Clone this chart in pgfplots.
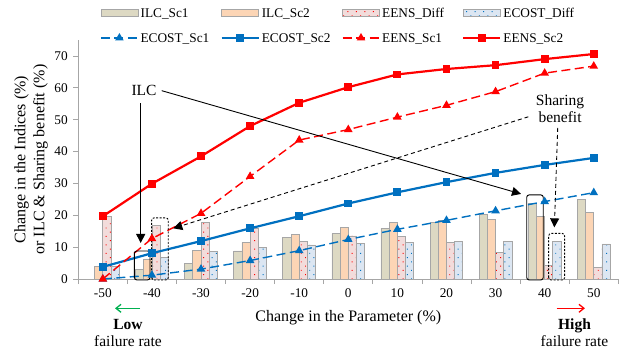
\documentclass[border=0pt]{standalone}
\usepackage{fontspec}
\setmainfont{Liberation Serif}
\usepackage{pgfplots}
\pgfplotsset{compat=1.18}
\usetikzlibrary{arrows.meta,patterns.meta}
\definecolor{ilcA}{HTML}{DDD9C3}
\definecolor{ilcB}{HTML}{FCD5B5}
\definecolor{eensD}{HTML}{F2DCDB}
\definecolor{ecostD}{HTML}{DCE6F2}
\definecolor{barline}{HTML}{A6A6A6}
\definecolor{axgray}{HTML}{A6A6A6}
\definecolor{myblue}{HTML}{0070C0}
\definecolor{myred}{HTML}{FF0000}
\definecolor{mygreen}{HTML}{00B050}
\pgfplotsset{
  barleg/.style={legend image code/.code={\draw[##1] (0pt,-3.5pt) rectangle (37pt,3.5pt);}},
}
\newcommand{\legtxt}[1]{\makebox[78pt][l]{\strut #1}}
\newcommand{\titlefont}{\fontsize{16}{19}\selectfont}
\newcommand{\annfont}{\fontsize{15.5}{17}\selectfont}
\begin{document}
\fontsize{13.3}{16}\selectfont
\begin{tikzpicture}
\begin{pgfinterruptboundingbox}
\begin{axis}[
  at={(0pt,0pt)}, anchor=south west,
  width=540pt, height=239pt, scale only axis,
  xmin=-0.5, xmax=10.5, ymin=0, ymax=75,
  clip=false,
  axis x line*=bottom, axis y line*=left,
  axis line style={draw=axgray, line width=0.8pt, -},
  xtick={-0.5,0.5,...,10.5},
  x tick label as interval,
  xticklabels={-50,-40,-30,-20,-10,0,10,20,30,40,50},
  ytick={0,10,...,70},
  tick align=outside,
  tick style={draw=axgray, line width=0.8pt},
  major tick length=5pt,
  /pgf/number format/assume math mode=true,
  y tick label style={xshift=-1pt},
  xlabel={Change in the Parameter (\%)},
  xlabel style={font=\titlefont, at={(axis description cs:0.5,0)}, anchor=center, yshift=-39pt},
  ylabel={Change in the Indices (\%)\\or ILC \& Sharing benefit (\%)},
  ylabel style={font=\titlefont, align=center, at={(axis description cs:-0.0876,0.5)}, anchor=center},
  legend columns=4,
  legend cell align=left,
  legend image code/.code={\draw[mark repeat=2,mark phase=2,#1] plot coordinates {(0pt,0pt) (18.5pt,0pt) (37pt,0pt)};},
  legend style={at={(axis description cs:0.0402,1)}, anchor=north west, yshift=36pt,
    draw=none, fill=none, inner sep=0pt, column sep=0pt, row sep=8pt,
    nodes={inner sep=2pt}},
]
% bars
\addplot[ybar, bar width=8.2pt, bar shift=-12.3pt, fill=ilcA, draw=barline, line width=0.8pt, barleg]
  coordinates {(0,0) (1,2.9) (2,5.0) (3,8.8) (4,12.9) (5,14.2) (6,16.0) (7,17.7) (8,20.2) (9,23.7) (10,24.9)};
\addlegendentry{\legtxt{ILC\_Sc1}}
\addplot[ybar, bar width=8.2pt, bar shift=-4.1pt, fill=ilcB, draw=barline, line width=0.8pt, barleg]
  coordinates {(0,3.9) (1,6.3) (2,9.1) (3,11.5) (4,14.0) (5,16.1) (6,17.7) (7,18.4) (8,18.8) (9,19.7) (10,20.8)};
\addlegendentry{\legtxt{ILC\_Sc2}}
\addplot[ybar, bar width=8.2pt, bar shift=4.1pt, fill=eensD, draw=barline, line width=0.8pt,
  postaction={pattern={Dots[distance=6pt,radius=0.65pt,angle=45]}, pattern color=myred}, barleg]
  coordinates {(0,19.6) (1,16.9) (2,17.7) (3,15.9) (4,11.7) (5,13.5) (6,13.3) (7,11.6) (8,8.4) (9,4.3) (10,3.6)};
\addlegendentry{\legtxt{EENS\_Diff}}
\addplot[ybar, bar width=8.2pt, bar shift=12.3pt, fill=ecostD, draw=barline, line width=0.8pt,
  postaction={pattern={Dots[distance=6pt,radius=0.65pt,angle=45]}, pattern color=myblue}, barleg]
  coordinates {(0,3.8) (1,6.8) (2,8.7) (3,9.9) (4,10.7) (5,11.2) (6,11.5) (7,11.9) (8,11.9) (9,11.7) (10,11.0)};
\addlegendentry{\legtxt{ECOST\_Diff}}
% lines
\addplot[myblue, line width=1.4pt, dash pattern=on 9pt off 4.5pt, mark=triangle*, mark size=3.6pt, mark options={solid}]
  coordinates {(0,0) (1,1.2) (2,3.1) (3,5.8) (4,8.9) (5,12.4) (6,15.6) (7,18.4) (8,21.4) (9,24.3) (10,27.1)};
\addlegendentry{\legtxt{ECOST\_Sc1}}
\addplot[myblue, line width=2.2pt, mark=square*, mark size=2.8pt]
  coordinates {(0,3.8) (1,8.1) (2,11.9) (3,15.9) (4,19.7) (5,23.7) (6,27.2) (7,30.4) (8,33.3) (9,35.8) (10,38.0)};
\addlegendentry{\legtxt{ECOST\_Sc2}}
\addplot[myred, line width=1.4pt, dash pattern=on 9pt off 4.5pt, mark=triangle*, mark size=3.6pt, mark options={solid}]
  coordinates {(0,0) (1,12.7) (2,20.6) (3,32.2) (4,43.6) (5,46.9) (6,50.8) (7,54.5) (8,58.8) (9,64.6) (10,66.8)};
\addlegendentry{\legtxt{EENS\_Sc1}}
\addplot[myred, line width=2.2pt, mark=square*, mark size=2.8pt]
  coordinates {(0,19.7) (1,29.9) (2,38.5) (3,48.0) (4,55.3) (5,60.2) (6,64.2) (7,65.9) (8,67.1) (9,69.0) (10,70.6)};
\addlegendentry{\legtxt{EENS\_Sc2}}
% annotations
\node[font=\annfont] at (axis cs:0.838,59.3) {ILC};
\draw[black, line width=0.9pt, -{Triangle[length=9pt,width=9pt]}] (axis cs:0.771,55.2) -- (axis cs:0.771,11.3);
\draw[black, line width=0.9pt, -{Triangle[length=9pt,width=9pt]}] (axis cs:1.199,59.1) -- (axis cs:8.518,26.7);
\draw[black, line width=0.9pt, rounded corners=2.5pt] (axis cs:0.641,-0.3) rectangle (axis cs:0.961,8.8);
\draw[black, line width=0.9pt, rounded corners=2.5pt] (axis cs:8.634,-0.3) rectangle (axis cs:8.972,26.4);
\draw[black, line width=0.9pt, dash pattern=on 2pt off 1.5pt, rounded corners=2.5pt] (axis cs:0.995,-0.3) rectangle (axis cs:1.333,19.2);
\draw[black, line width=0.9pt, dash pattern=on 2pt off 1.5pt, rounded corners=2.5pt] (axis cs:9.081,-0.3) rectangle (axis cs:9.407,14.3);
\node[font=\annfont, align=center] at (axis cs:9.313,53.4) {Sharing\\benefit};
\draw[black, line width=0.9pt, dash pattern=on 4pt off 3pt, -{Triangle[length=9pt,width=9pt]}] (axis cs:9.266,47.4) -- (axis cs:9.197,16.2);
\draw[black, line width=0.9pt, dash pattern=on 4pt off 3pt, -{Triangle[length=9pt,width=9pt]}] (axis cs:8.667,50.9) -- (axis cs:1.435,15.9);
\draw[mygreen, line width=1.3pt, -{Straight Barb[length=5pt,width=8pt]}] (axis cs:0.757,-9.2) -- (axis cs:0.248,-9.2);
\draw[myred, line width=1.3pt, -{Straight Barb[length=5pt,width=8pt]}] (axis cs:9.245,-9.2) -- (axis cs:9.821,-9.2);
\node[font=\annfont, align=center] at (axis cs:0.512,-16.9) {\textbf{Low}\\failure rate};
\node[font=\annfont, align=center] at (axis cs:9.608,-16.9) {\textbf{High}\\failure rate};
\end{axis}
\end{pgfinterruptboundingbox}
\path[use as bounding box] (-78.3pt,-72pt) rectangle (558.7pt,279pt);
\end{tikzpicture}
\end{document}
